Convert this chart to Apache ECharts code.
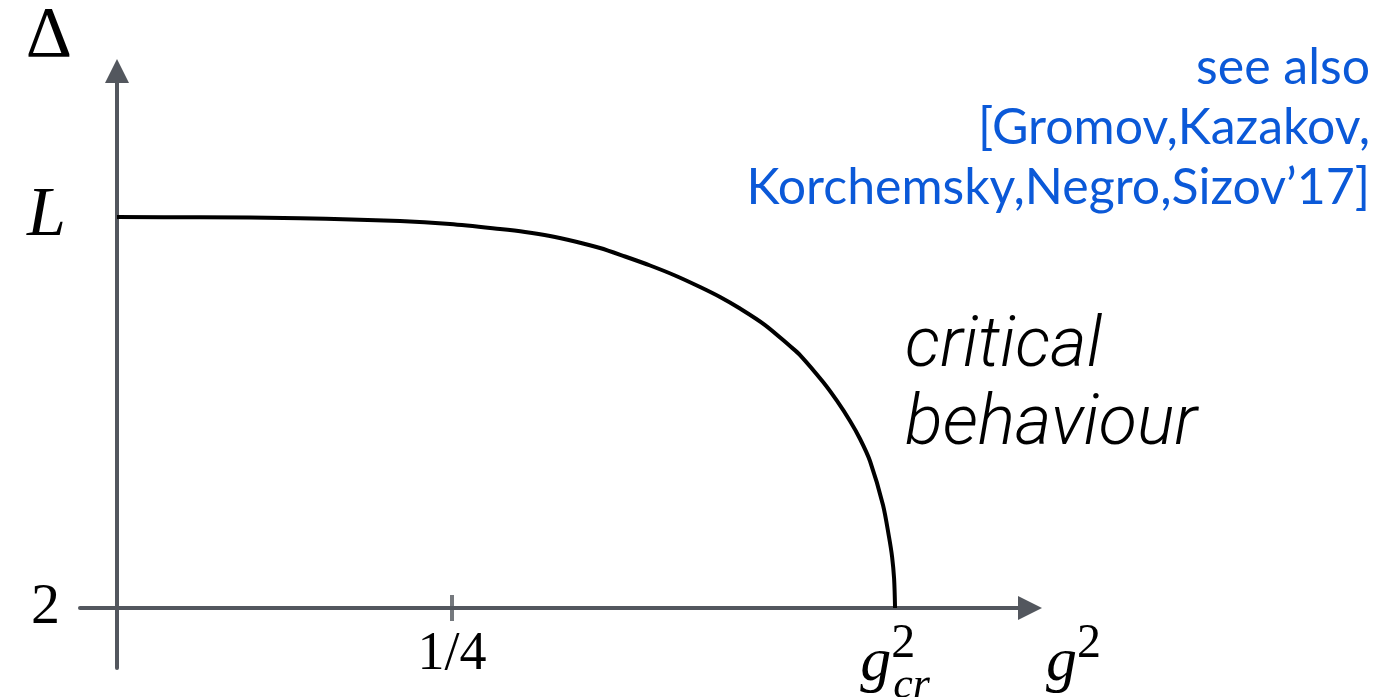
<!DOCTYPE html>
<html>
<head>
<meta charset="utf-8">
<title>Δ versus g²</title>
<script src="https://cdn.jsdelivr.net/npm/echarts@6/dist/echarts.min.js"></script>
<style>
  html, body { margin: 0; padding: 0; background: #ffffff; }
  #chart { width: 1389px; height: 697px; }
</style>
</head>
<body>
<div id="chart"></div>
<script>
// Scaling dimension Δ as a function of the coupling g²
const gSquared = [0, 0.0619, 0.1366, 0.2112, 0.2485, 0.2858, 0.3045, 0.3231,
                  0.3418, 0.3604, 0.3791, 0.3978, 0.4164, 0.4351, 0.4500,
                  0.4649, 0.4836, 0.5022, 0.5097, 0.5269, 0.5373, 0.5470,
                  0.5545, 0.5619, 0.5716, 0.5761, 0.5784, 0.5799, 0.5806];
const delta    = [6.000, 5.997, 5.988, 5.959, 5.928, 5.877, 5.847, 5.806,
                  5.749, 5.683, 5.596, 5.504, 5.402, 5.284, 5.182,
                  5.064, 4.895, 4.680, 4.588, 4.312, 4.118, 3.913,
                  3.729, 3.504, 3.054, 2.726, 2.522, 2.297, 2.000];

// Reference values on the axes
const DELTA_MIN = 2;        // bottom of the Δ axis, where the g² axis sits
const L_VALUE = 6;          // Δ at zero coupling
const QUARTER = 0.25;       // g² = 1/4
const G_CR = 0.5806;        // critical coupling g²_cr

// Axis extents
const X_RANGE = [-0.0276, 0.6813];
const DELTA_RANGE = [1.386, 7.494];

const AXIS_GREY = '#53575e';
const MATH_FONT = '"Liberation Serif", "DejaVu Serif", serif';

// Heights are measured from Δ = 2 so the g² axis crosses at zero
const curve = gSquared.map((g, i) => [g, delta[i] - DELTA_MIN]);

const near = (a, b) => Math.abs(a - b) < 1e-6;

const chart = echarts.init(document.getElementById('chart'), null, { renderer: 'canvas' });

chart.setOption({
  backgroundColor: '#ffffff',
  animation: false,
  title: [
    {
      text: 'see also\n[Gromov,Kazakov,\nKorchemsky,Negro,Sizov’17]',
      left: 1365,
      top: 33,
      textAlign: 'right',
      textStyle: {
        fontFamily: 'Lato, "Open Sans", sans-serif',
        fontWeight: 'normal',
        fontSize: 50,
        lineHeight: 60,
        color: '#0b59d8'
      }
    },
    {
      text: 'critical\nbehaviour',
      left: 900,
      top: 304,
      textStyle: {
        fontFamily: 'Roboto, "Liberation Sans", sans-serif',
        fontStyle: 'italic',
        fontWeight: 300,
        fontSize: 70,
        lineHeight: 78,
        color: '#000000'
      }
    }
  ],
  grid: {
    left: 80,
    right: 359,
    top: 71,
    bottom: 29,
    containLabel: false,
    outerBoundsMode: 'none'
  },
  xAxis: {
    type: 'value',
    min: X_RANGE[0],
    max: X_RANGE[1],
    axisLine: {
      onZero: true,
      symbol: ['none', 'triangle'],
      symbolSize: [24, 24],
      lineStyle: { color: AXIS_GREY, width: 4 }
    },
    axisTick: { show: false },
    splitLine: { show: false },
    axisLabel: {
      customValues: [QUARTER, G_CR],
      margin: -48,
      verticalAlign: 'top',
      formatter: function (v) {
        if (near(v, QUARTER)) return '{n|1/4}';
        if (near(v, G_CR)) return '{g|g}{sup|2}{sub|cr}';
        return '';
      },
      rich: {
        n: { fontFamily: MATH_FONT, fontSize: 54, lineHeight: 69, color: '#000' },
        g: { fontFamily: MATH_FONT, fontStyle: 'italic', fontSize: 62, lineHeight: 87, verticalAlign: 'middle', align: 'left', color: '#000' },
        sup: { fontFamily: MATH_FONT, fontSize: 48, lineHeight: 41, verticalAlign: 'top', align: 'left', width: 2, color: '#000' },
        sub: { fontFamily: MATH_FONT, fontStyle: 'italic', fontSize: 44, lineHeight: 5, height: 42, verticalAlign: 'bottom', align: 'left', color: '#000' }
      }
    },
    name: '{g|g}{sup|2}',
    nameLocation: 'end',
    nameGap: 16,
    nameTextStyle: {
      align: 'left',
      verticalAlign: 'top',
      padding: [12, 0, 0, 0],
      rich: {
        g: { fontFamily: MATH_FONT, fontStyle: 'italic', fontSize: 62, lineHeight: 87, verticalAlign: 'middle', color: '#000' },
        sup: { fontFamily: MATH_FONT, fontSize: 48, lineHeight: 41, verticalAlign: 'top', color: '#000' }
      }
    }
  },
  yAxis: {
    type: 'value',
    min: DELTA_RANGE[0] - DELTA_MIN,
    max: DELTA_RANGE[1] - DELTA_MIN,
    axisLine: {
      onZero: true,
      symbol: ['none', 'triangle'],
      symbolSize: [24, 24],
      lineStyle: { color: AXIS_GREY, width: 4 }
    },
    axisTick: { show: false },
    splitLine: { show: false },
    axisLabel: {
      customValues: [0, L_VALUE - DELTA_MIN],
      margin: 14,
      formatter: function (v) {
        return near(v, 0) ? '{n|' + DELTA_MIN + '}' : '{l|L}';
      },
      rich: {
        n: { fontFamily: MATH_FONT, fontSize: 58, color: '#000', padding: [0, 6, 0, 0] },
        l: { fontFamily: MATH_FONT, fontStyle: 'italic', fontSize: 70, color: '#000' }
      }
    },
    name: 'Δ',
    nameLocation: 'end',
    nameGap: -2,
    nameTextStyle: {
      fontFamily: MATH_FONT,
      fontSize: 72,
      color: '#000',
      align: 'right',
      verticalAlign: 'bottom',
      padding: [0, 45, 0, 0]
    }
  },
  series: [
    {
      name: 'Δ(g²)',
      type: 'line',
      data: curve,
      smooth: 0.3,
      symbol: 'none',
      lineStyle: { color: '#000000', width: 4 },
      z: 3
    },
    {
      // tick mark crossing the g² axis at 1/4
      name: 'tick',
      type: 'scatter',
      data: [[QUARTER, 0]],
      symbol: 'rect',
      symbolSize: [4, 26],
      itemStyle: { color: AXIS_GREY },
      silent: true,
      z: 1
    }
  ]
});
</script>
</body>
</html>
